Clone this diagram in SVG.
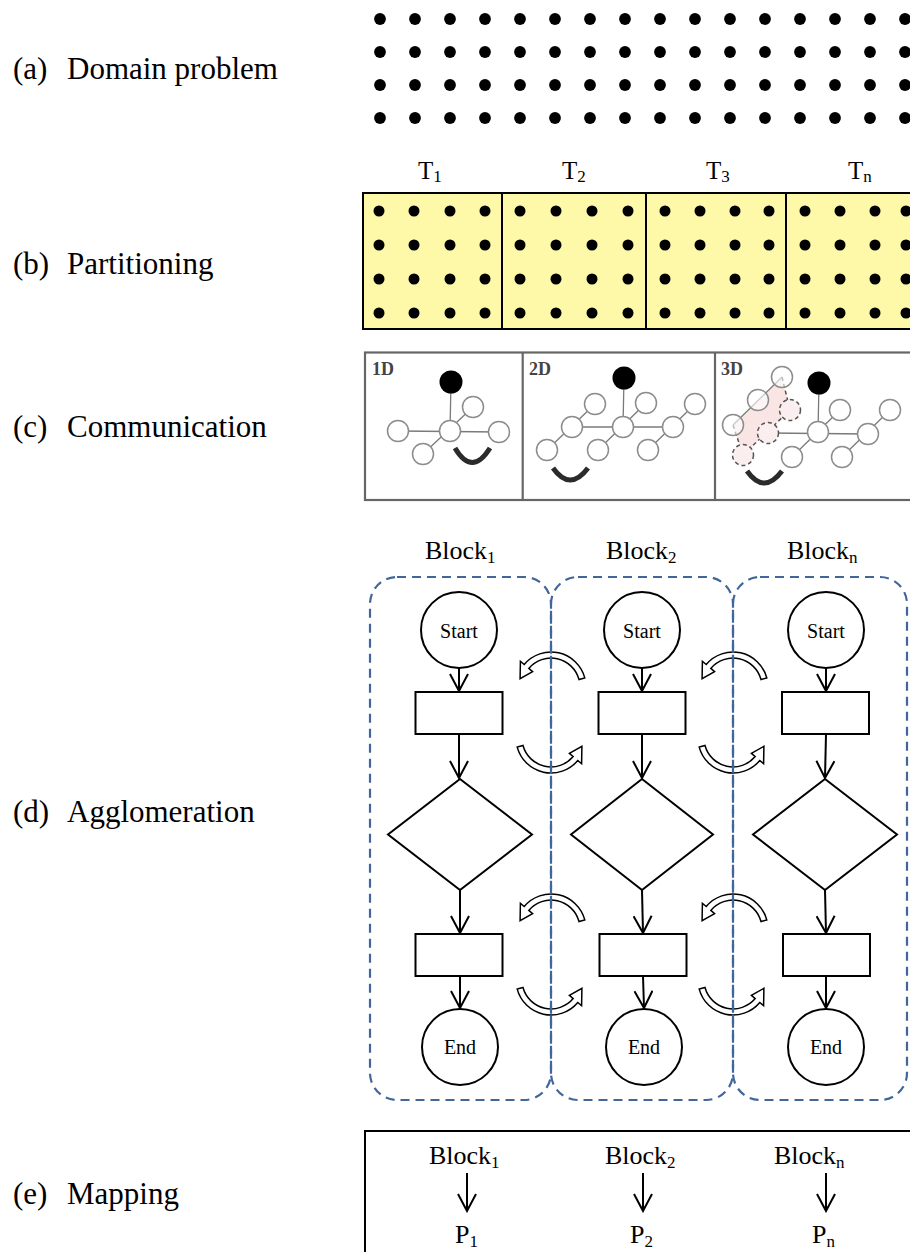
<svg xmlns="http://www.w3.org/2000/svg" xmlns:xlink="http://www.w3.org/1999/xlink" width="910" height="1252" viewBox="0 0 910 1252">
<style>
.t{font-family:"Liberation Serif","Times New Roman",serif;font-size:25px;fill:#000}
.bk{font-family:"Liberation Serif","Times New Roman",serif;font-size:26px;fill:#000}
.sub{font-size:17px}
.cd{font-family:"Liberation Serif","Times New Roman",serif;font-size:18px;font-weight:bold;fill:#444}
.se{font-family:"Liberation Serif","Times New Roman",serif;font-size:20px;fill:#000;text-anchor:middle}
.lbl{font-family:"Liberation Serif","Times New Roman",serif;font-size:31px;fill:#000}
.grid{fill:#fdf9a9;stroke:#000;stroke-width:2}
.div{stroke:#000;stroke-width:2}
.cbox{fill:#fff;stroke:#666;stroke-width:2.2}
.cdiv{stroke:#666;stroke-width:2.2}
.cn{fill:#fff;stroke:#8c8c8c;stroke-width:1.5}
.cnd{fill:#fbeeee;stroke:#555;stroke-width:1.5;stroke-dasharray:4 3}
.cl{stroke:#7a7a7a;stroke-width:1.3;fill:none}
.cld{stroke:#555;stroke-width:1.5;stroke-dasharray:4 3;fill:none}
.carc{fill:none;stroke:#2b2b2b;stroke-width:5}
.blk{fill:none;stroke:#41679a;stroke-width:2.2;stroke-dasharray:9 6}
.fc{fill:#fff;stroke:#000;stroke-width:2}
.flow{stroke:#000;stroke-width:2;fill:none}
.barc{fill:#fff;stroke:#000;stroke-width:1.5;stroke-linejoin:miter}
</style>
<defs>
<marker id="ah" viewBox="-20 -10 22 20" refX="0" refY="0" markerWidth="22" markerHeight="20" markerUnits="userSpaceOnUse" orient="auto">
<path d="M-17,-9 L0,0 L-17,9" fill="none" stroke="#000" stroke-width="2"/>
</marker>
<path id="arcU" class="barc" d="M33.8,-9.1 A35,35 0 0 0 -26.8,-22.5 L-30.6,-25.7 L-30.9,-8.3 L-18.4,-15.4 L-22.2,-18.6 A29,29 0 0 1 28.0,-7.5 Z"/>
<g id="rowA">
<circle cx="380" cy="0" r="5.9"/><circle cx="415" cy="0" r="5.9"/><circle cx="450" cy="0" r="5.9"/><circle cx="485" cy="0" r="5.9"/>
<circle cx="520" cy="0" r="5.9"/><circle cx="555" cy="0" r="5.9"/><circle cx="590" cy="0" r="5.9"/><circle cx="625" cy="0" r="5.9"/>
<circle cx="660" cy="0" r="5.9"/><circle cx="695" cy="0" r="5.9"/><circle cx="730" cy="0" r="5.9"/><circle cx="765" cy="0" r="5.9"/>
<circle cx="800" cy="0" r="5.9"/><circle cx="835" cy="0" r="5.9"/><circle cx="870" cy="0" r="5.9"/><circle cx="905" cy="0" r="5.9"/>
</g>
<g id="rowB">
<circle cx="379" cy="0" r="5.5"/><circle cx="414" cy="0" r="5.5"/><circle cx="450" cy="0" r="5.5"/><circle cx="485" cy="0" r="5.5"/>
<circle cx="520" cy="0" r="5.5"/><circle cx="556" cy="0" r="5.5"/><circle cx="592" cy="0" r="5.5"/><circle cx="628" cy="0" r="5.5"/>
<circle cx="665" cy="0" r="5.5"/><circle cx="700" cy="0" r="5.5"/><circle cx="735" cy="0" r="5.5"/><circle cx="769" cy="0" r="5.5"/>
<circle cx="805" cy="0" r="5.5"/><circle cx="840" cy="0" r="5.5"/><circle cx="875" cy="0" r="5.5"/><circle cx="906" cy="0" r="5.5"/>
</g>
</defs>
<rect width="910" height="1252" fill="#fff"/>

<!-- left labels -->
<g id="labels" style="font-family:'Liberation Serif','Times New Roman',serif;font-size:31px">
<text class="lbl" y="79" style="font-family:'Liberation Serif',serif"><tspan x="13">(a)</tspan><tspan x="67">Domain problem</tspan></text>
<text class="lbl" y="274" style="font-family:'Liberation Serif',serif"><tspan x="13">(b)</tspan><tspan x="67">Partitioning</tspan></text>
<text class="lbl" y="437" style="font-family:'Liberation Serif',serif"><tspan x="13">(c)</tspan><tspan x="67">Communication</tspan></text>
<text class="lbl" y="822" style="font-family:'Liberation Serif',serif"><tspan x="13">(d)</tspan><tspan x="67">Agglomeration</tspan></text>
<text class="lbl" y="1204" style="font-family:'Liberation Serif',serif"><tspan x="13">(e)</tspan><tspan x="67">Mapping</tspan></text>
</g>

<!-- (a) domain -->
<g id="domain" fill="#000">
<use xlink:href="#rowA" href="#rowA" y="19"/>
<use xlink:href="#rowA" href="#rowA" y="52"/>
<use xlink:href="#rowA" href="#rowA" y="85"/>
<use xlink:href="#rowA" href="#rowA" y="118"/>
</g>

<!-- (b) partitioning -->
<g id="partitioning">
<text class="t" x="418" y="179">T<tspan class="sub" dy="3">1</tspan></text>
<text class="t" x="562" y="179">T<tspan class="sub" dy="3">2</tspan></text>
<text class="t" x="706" y="179">T<tspan class="sub" dy="3">3</tspan></text>
<text class="t" x="848" y="179">T<tspan class="sub" dy="3">n</tspan></text>
<rect class="grid" x="363" y="193" width="570" height="136"/>
<line class="div" x1="502" y1="193" x2="502" y2="329"/>
<line class="div" x1="646" y1="193" x2="646" y2="329"/>
<line class="div" x1="786" y1="193" x2="786" y2="329"/>
<g fill="#000">
<use xlink:href="#rowB" href="#rowB" y="211"/>
<use xlink:href="#rowB" href="#rowB" y="245"/>
<use xlink:href="#rowB" href="#rowB" y="279"/>
<use xlink:href="#rowB" href="#rowB" y="313"/>
</g>
</g>

<!-- (c) communication -->
<g id="communication">
<rect class="cbox" x="365" y="352.5" width="570" height="147.5"/>
<line class="cdiv" x1="522.7" y1="352.5" x2="522.7" y2="500"/>
<line class="cdiv" x1="715" y1="352.5" x2="715" y2="500"/>
<g id="comm-1d">
<text class="cd" x="372" y="375">1D</text>
<line class="cl" x1="451" y1="382" x2="450" y2="431"/>
<line class="cl" x1="398" y1="431" x2="499" y2="432"/>
<line class="cl" x1="423" y1="454" x2="473" y2="407"/>
<circle cx="451" cy="382" r="11.5" fill="#000"/>
<circle class="cn" cx="450" cy="431" r="10.5"/>
<circle class="cn" cx="398" cy="431" r="10.5"/>
<circle class="cn" cx="499" cy="432" r="10.5"/>
<circle class="cn" cx="473" cy="407" r="10.5"/>
<circle class="cn" cx="423" cy="454" r="10.5"/>
<path class="carc" d="M455,448 Q472,477 490,448"/>
</g>
<g id="comm-2d">
<text class="cd" x="529" y="375">2D</text>
<line class="cl" x1="624" y1="378" x2="623" y2="427"/>
<line class="cl" x1="572" y1="427" x2="673" y2="427"/>
<line class="cl" x1="547" y1="450" x2="595" y2="404"/>
<line class="cl" x1="598" y1="450" x2="646" y2="403"/>
<line class="cl" x1="648" y1="450" x2="695" y2="404"/>
<circle cx="624" cy="378" r="11.5" fill="#000"/>
<circle class="cn" cx="623" cy="427" r="10.5"/>
<circle class="cn" cx="572" cy="427" r="10.5"/>
<circle class="cn" cx="673" cy="427" r="10.5"/>
<circle class="cn" cx="595" cy="404" r="10.5"/>
<circle class="cn" cx="646" cy="403" r="10.5"/>
<circle class="cn" cx="695" cy="404" r="10.5"/>
<circle class="cn" cx="547" cy="450" r="10.5"/>
<circle class="cn" cx="598" cy="450" r="10.5"/>
<circle class="cn" cx="648" cy="450" r="10.5"/>
<path class="carc" d="M553,468 Q570,492 588,468"/>
</g>
<g id="comm-3d">
<text class="cd" x="721" y="375">3D</text>
<polygon points="782,377 790,410 743,455 733,425" fill="#f6d3d3" opacity="0.6"/>
<line class="cl" x1="733" y1="425" x2="782" y2="377"/>
<line class="cld" x1="782" y1="377" x2="790" y2="410"/>
<line class="cld" x1="733" y1="425" x2="743" y2="455"/>
<line class="cld" x1="743" y1="455" x2="790" y2="410"/>
<line class="cl" x1="819" y1="383" x2="818" y2="432"/>
<line class="cl" x1="768" y1="433" x2="868" y2="434"/>
<line class="cl" x1="792" y1="457" x2="840" y2="410"/>
<line class="cl" x1="842" y1="457" x2="890" y2="410"/>
<circle cx="819" cy="383" r="11.5" fill="#000"/>
<circle class="cn" cx="733" cy="425" r="10.5" fill-opacity="0.6"/>
<circle class="cn" cx="758" cy="400" r="10.5" fill-opacity="0.6"/>
<circle class="cn" cx="782" cy="377" r="10.5" fill-opacity="0.6"/>
<circle class="cn" cx="818" cy="432" r="10.5"/>
<circle class="cn" cx="868" cy="434" r="10.5"/>
<circle class="cn" cx="840" cy="410" r="10.5"/>
<circle class="cn" cx="890" cy="410" r="10.5"/>
<circle class="cn" cx="792" cy="457" r="10.5"/>
<circle class="cn" cx="842" cy="457" r="10.5"/>
<circle class="cnd" cx="768" cy="433" r="10.5"/>
<circle class="cnd" cx="790" cy="410" r="10.5"/>
<circle class="cnd" cx="743" cy="455" r="10.5"/>
<path class="carc" d="M747,471 Q764,495 782,471"/>
</g>
</g>

<!-- (d) agglomeration -->
<g id="agglomeration">
<text class="bk" x="425" y="559">Block<tspan class="sub" dy="4">1</tspan></text>
<text class="bk" x="606" y="559">Block<tspan class="sub" dy="4">2</tspan></text>
<text class="bk" x="787" y="559">Block<tspan class="sub" dy="4">n</tspan></text>

<g id="exchange">
<use xlink:href="#arcU" href="#arcU" transform="translate(551,687)"/>
<use xlink:href="#arcU" href="#arcU" transform="translate(551,738) rotate(180)"/>
<use xlink:href="#arcU" href="#arcU" transform="translate(733,687)"/>
<use xlink:href="#arcU" href="#arcU" transform="translate(733,738) rotate(180)"/>
<use xlink:href="#arcU" href="#arcU" transform="translate(551,929)"/>
<use xlink:href="#arcU" href="#arcU" transform="translate(551,980) rotate(180)"/>
<use xlink:href="#arcU" href="#arcU" transform="translate(733,929)"/>
<use xlink:href="#arcU" href="#arcU" transform="translate(733,980) rotate(180)"/>
</g>

<g id="block1">
<rect class="blk" x="370" y="577" width="181" height="523" rx="27"/>
<g id="b1-start"><circle class="fc" cx="459" cy="630" r="38"/><text class="se" x="459" y="638">Start</text></g>
<rect id="b1-proc1" class="fc" x="415.5" y="692" width="87" height="42"/>
<polygon id="b1-dec" class="fc" points="460,779 532,834.5 460,890 388,834.5"/>
<rect id="b1-proc2" class="fc" x="415.5" y="934" width="87" height="42"/>
<g id="b1-end"><circle class="fc" cx="460" cy="1047" r="38"/><text class="se" x="460" y="1054">End</text></g>
</g>
<g id="block2">
<rect class="blk" x="551" y="577" width="182" height="523" rx="27"/>
<g id="b2-start"><circle class="fc" cx="642" cy="630" r="38"/><text class="se" x="642" y="638">Start</text></g>
<rect id="b2-proc1" class="fc" x="598.5" y="692" width="87" height="42"/>
<polygon id="b2-dec" class="fc" points="642,779 713,834.5 642,890 571,834.5"/>
<rect id="b2-proc2" class="fc" x="599.5" y="934" width="87" height="42"/>
<g id="b2-end"><circle class="fc" cx="644" cy="1047" r="38"/><text class="se" x="644" y="1054">End</text></g>
</g>
<g id="block3">
<rect class="blk" x="733" y="577" width="174" height="523" rx="27"/>
<g id="b3-start"><circle class="fc" cx="826" cy="630" r="38"/><text class="se" x="826" y="638">Start</text></g>
<rect id="b3-proc1" class="fc" x="782" y="692" width="87" height="42"/>
<polygon id="b3-dec" class="fc" points="825,779 897,834.5 825,890 753,834.5"/>
<rect id="b3-proc2" class="fc" x="783" y="934" width="87" height="42"/>
<g id="b3-end"><circle class="fc" cx="826" cy="1047" r="38"/><text class="se" x="826" y="1054">End</text></g>
</g>
</g>

<!-- (e) mapping -->
<g id="mapping">
<rect x="365" y="1131" width="570" height="140" fill="none" stroke="#000" stroke-width="2"/>
<text class="bk" x="429" y="1164">Block<tspan class="sub" dy="4">1</tspan></text>
<text class="bk" x="605" y="1164">Block<tspan class="sub" dy="4">2</tspan></text>
<text class="bk" x="774" y="1164">Block<tspan class="sub" dy="4">n</tspan></text>
<text class="bk" x="455" y="1243">P<tspan class="sub" dy="4">1</tspan></text>
<text class="bk" x="630" y="1243">P<tspan class="sub" dy="4">2</tspan></text>
<text class="bk" x="812" y="1243">P<tspan class="sub" dy="4">n</tspan></text>
</g>

<!-- connectors -->
<g id="connectors" class="flow" marker-end="url(#ah)">
<path d="M459,668 L459,691"/>
<path d="M459,734 L459,778"/>
<path d="M460,890 L460,933"/>
<path d="M460,976 L460,1008"/>
<path d="M642,668 L642,691"/>
<path d="M642,734 L642,778"/>
<path d="M642,890 L643,933"/>
<path d="M643,976 L644,1008"/>
<path d="M826,668 L826,691"/>
<path d="M826,734 L825,778"/>
<path d="M825,890 L826,933"/>
<path d="M826,976 L826,1008"/>
<path d="M467,1173 L467,1211"/>
<path d="M643,1173 L643,1211"/>
<path d="M826,1173 L826,1211"/>
</g>
</svg>
